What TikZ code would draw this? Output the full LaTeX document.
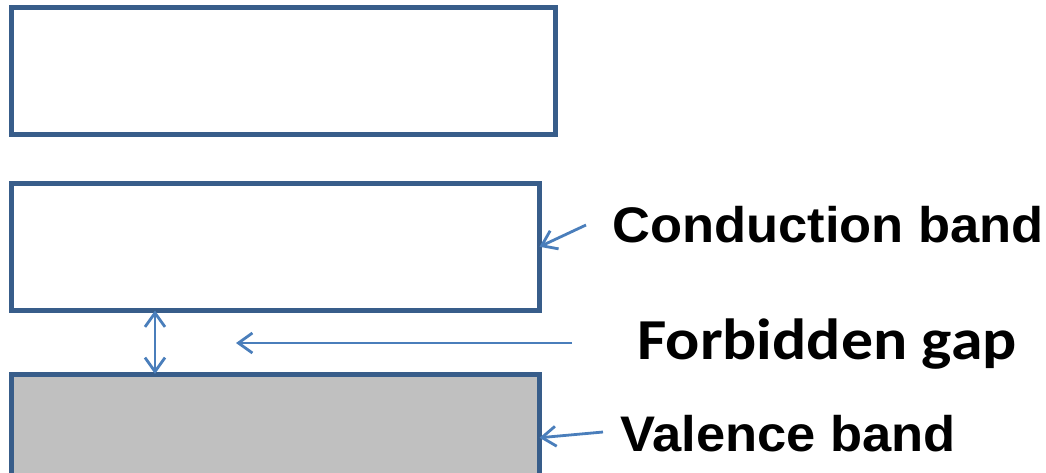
\documentclass[tikz,border=0pt]{standalone}
\usepackage{fontspec}
\usetikzlibrary{arrows.meta}

\newfontfamily\arialfont[FakeStretch=1.05]{Liberation Sans}
\newfontfamily\calibrifont[FakeStretch=1.1]{Carlito}
\definecolor{bandline}{HTML}{385D8A}
\definecolor{arrowblue}{HTML}{4A7EBB}
\definecolor{bandfill}{HTML}{C0C0C0}

\begin{document}
\begin{tikzpicture}[x=1pt, y=-1pt,
    band/.style={rectangle, draw=bandline, line width=5pt, minimum width=528.5pt, minimum height=127.5pt, anchor=north west, outer sep=0pt, inner sep=0pt},
    bandtext/.style={anchor=base west, inner sep=0pt},
    pointer/.style={arrowblue, line width=2.8pt, -{Straight Barb[length=14pt, width=20pt]}}]
    \useasboundingbox (0,0) rectangle (1046,472);
    \clip (0,0) rectangle (1046,472);

    % BANDS
    \node[band, minimum width=544pt] (ub) at (11,7) {};
    \node[band] (cb) at (11,183) {};
    \node[band, fill=bandfill] (vb) at (11,374) {};

    % LABELS
    \node[bandtext, font=\arialfont\bfseries\fontsize{50}{53}\selectfont] (cbl) at (612,242) {Conduction band};
    \node[bandtext, font=\calibrifont\bfseries\fontsize{58}{61}\selectfont] (fgl) at (637,359) {Forbidden gap};
    \node[bandtext, font=\arialfont\bfseries\fontsize{50}{53}\selectfont] (vbl) at (620,451) {Valence band};

    % POINTERS
    \coordinate (cbtail) at (586,225);
    \draw[pointer] (cbtail) -- (cb.east);
    \coordinate (gaptail) at (572,343);
    \coordinate (gaptip) at (236,343);
    \draw[pointer] (gaptail) -- (gaptip);
    \coordinate (vbtail) at (603,432);
    \draw[pointer] (vbtail) -- (vb.east);

    % GAP WIDTH
    \coordinate (gapx) at (155,0);
    \draw[pointer, {Straight Barb[length=14pt, width=20pt]}-{Straight Barb[length=14pt, width=20pt]}] (cb.south -| gapx) -- (vb.north -| gapx);
\end{tikzpicture}
\end{document}
